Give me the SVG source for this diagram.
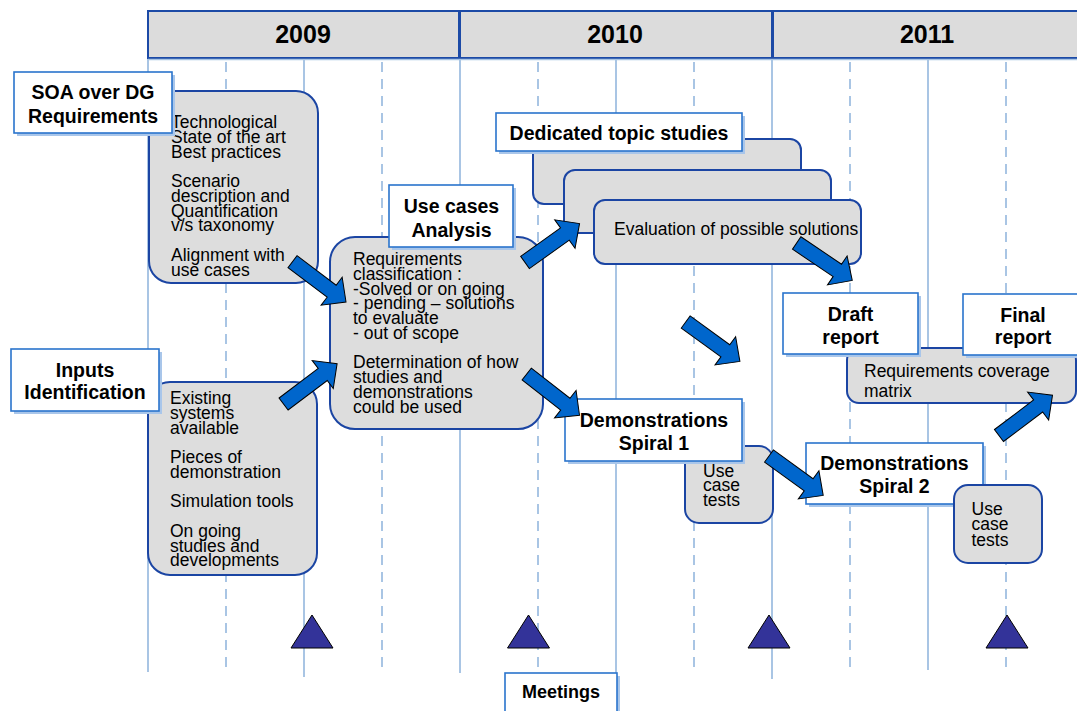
<svg xmlns="http://www.w3.org/2000/svg" xmlns:xlink="http://www.w3.org/1999/xlink" width="1077" height="711" viewBox="0 0 1077 711">
<style>
.bg{fill:#ffffff}
.grid{stroke:#a9c5e4;stroke-width:2;fill:none}
.dash{stroke:#a9c5e4;stroke-width:2;stroke-dasharray:10 7;fill:none}
.hdr{fill:#dcdcdc;stroke:#1c4aa6;stroke-width:2}
.div{stroke:#1c4aa6;stroke-width:3}
.year{font-family:"Liberation Sans",Arial,sans-serif;font-weight:bold;font-size:25px;fill:#000;text-anchor:middle}
.gbox{fill:#dddddd;stroke:#1b45a3;stroke-width:2}
.lbl{fill:#ffffff;stroke:#2a74cc;stroke-width:1.6}
.shd{fill:#a9c6ea}
.lt{font-family:"Liberation Sans",Arial,sans-serif;font-weight:bold;font-size:19.5px;fill:#000;text-anchor:middle}
.bt{font-family:"Liberation Sans",Arial,sans-serif;font-size:17.5px;fill:#000}
.tri{fill:#333399;stroke:#000;stroke-width:1}
.arr{fill:#0066cc;stroke:#000;stroke-width:1;stroke-linejoin:miter}
</style>
<defs>
<path id="blk" d="M0,-7.5 H49 V-17.5 L67,0 L49,17.5 V7.5 H0 Z"/>
</defs>
<rect class="bg" x="0" y="0" width="1077" height="711"/>

<g id="timeline">
  <g id="gridlines">
    <line class="grid" x1="148" y1="58" x2="148" y2="672"/>
    <line class="dash" x1="226" y1="62" x2="226" y2="671"/>
    <line class="grid" x1="304" y1="58" x2="304" y2="677"/>
    <line class="dash" x1="382" y1="62" x2="382" y2="671"/>
    <line class="grid" x1="460" y1="58" x2="460" y2="673"/>
    <line class="dash" x1="538" y1="62" x2="538" y2="671"/>
    <line class="grid" x1="616" y1="58" x2="616" y2="673"/>
    <line class="dash" x1="694" y1="62" x2="694" y2="671"/>
    <line class="grid" x1="772" y1="58" x2="772" y2="679"/>
    <line class="dash" x1="850" y1="62" x2="850" y2="671"/>
    <line class="grid" x1="928" y1="58" x2="928" y2="670"/>
    <line class="dash" x1="1006" y1="62" x2="1006" y2="671"/>
  </g>
  <g id="header">
    <rect class="hdr" x="148" y="11" width="940" height="47"/>
    <line x1="148" y1="59.5" x2="1077" y2="59.5" stroke="#a9c5e4" stroke-width="1.5"/>
    <line class="div" x1="459.5" y1="11" x2="459.5" y2="58"/>
    <line class="div" x1="772.5" y1="11" x2="772.5" y2="58"/>
    <text class="year" x="303" y="43">2009</text>
    <text class="year" x="615" y="43">2010</text>
    <text class="year" x="927" y="43">2011</text>
  </g>
</g>

<g id="soa-content">
  <rect class="gbox" x="149" y="91" width="169" height="192" rx="22"/>
  <text class="bt">
    <tspan x="171" y="128">Technological</tspan>
    <tspan x="171" y="142.75">State of the art</tspan>
    <tspan x="171" y="157.5">Best practices</tspan>
    <tspan x="171" y="187">Scenario</tspan>
    <tspan x="171" y="201.75">description and</tspan>
    <tspan x="171" y="216.5">Quantification</tspan>
    <tspan x="171" y="231.25">v/s taxonomy</tspan>
    <tspan x="171" y="260.75">Alignment with</tspan>
    <tspan x="171" y="275.5">use cases</tspan>
  </text>
</g>
<g id="soa-label">
  <rect class="shd" x="17" y="75" width="158" height="61"/>
  <rect class="lbl" x="14" y="72" width="158" height="61"/>
  <text class="lt"><tspan x="93" y="99">SOA over DG</tspan><tspan x="93" y="123">Requirements</tspan></text>
</g>

<g id="inputs-content">
  <rect class="gbox" x="148" y="382" width="169" height="193" rx="22"/>
  <text class="bt">
    <tspan x="170" y="404">Existing</tspan>
    <tspan x="170" y="418.75">systems</tspan>
    <tspan x="170" y="433.5">available</tspan>
    <tspan x="170" y="463">Pieces of</tspan>
    <tspan x="170" y="477.75">demonstration</tspan>
    <tspan x="170" y="507.25">Simulation tools</tspan>
    <tspan x="170" y="536.75">On going</tspan>
    <tspan x="170" y="551.5">studies and</tspan>
    <tspan x="170" y="566.25">developments</tspan>
  </text>
</g>
<g id="inputs-label">
  <rect class="shd" x="14" y="352" width="148" height="62"/>
  <rect class="lbl" x="11" y="349" width="148" height="62"/>
  <text class="lt"><tspan x="85" y="376.5">Inputs</tspan><tspan x="85" y="399">Identification</tspan></text>
</g>

<g id="usecases-content">
  <rect class="gbox" x="330" y="237" width="213" height="192" rx="25"/>
  <text class="bt">
    <tspan x="353" y="265">Requirements</tspan>
    <tspan x="353" y="279.75">classification :</tspan>
    <tspan x="353" y="294.5">-Solved or on going</tspan>
    <tspan x="353" y="309.25">- pending – solutions</tspan>
    <tspan x="353" y="324">to evaluate</tspan>
    <tspan x="353" y="338.75">- out of scope</tspan>
    <tspan x="353" y="368.25">Determination of how</tspan>
    <tspan x="353" y="383">studies and</tspan>
    <tspan x="353" y="397.75">demonstrations</tspan>
    <tspan x="353" y="412.5">could be used</tspan>
  </text>
</g>
<g id="usecases-label">
  <rect class="shd" x="392" y="188" width="124" height="62"/>
  <rect class="lbl" x="389" y="185" width="124" height="62"/>
  <text class="lt"><tspan x="451.5" y="213">Use cases</tspan><tspan x="451.5" y="237">Analysis</tspan></text>
</g>

<g id="topic-studies">
  <rect class="gbox" x="533" y="139" width="268" height="65" rx="11"/>
  <rect class="gbox" x="564" y="170" width="267" height="63" rx="11"/>
  <rect class="gbox" x="594" y="200" width="267" height="64" rx="11"/>
  <text class="bt" x="614" y="235">Evaluation of possible solutions</text>
</g>
<g id="topic-label">
  <rect class="shd" x="499" y="116" width="246" height="38"/>
  <rect class="lbl" x="496" y="113" width="246" height="38"/>
  <text class="lt" x="619" y="140">Dedicated topic studies</text>
</g>

<g id="coverage-content">
  <rect class="gbox" x="847" y="348" width="229" height="55" rx="12"/>
  <text class="bt"><tspan x="864" y="376.5">Requirements coverage</tspan><tspan x="864" y="397">matrix</tspan></text>
</g>
<g id="draft-label">
  <rect class="shd" x="786" y="296" width="135" height="61"/>
  <rect class="lbl" x="783" y="293" width="135" height="61"/>
  <text class="lt"><tspan x="850.5" y="321">Draft</tspan><tspan x="850.5" y="343.5">report</tspan></text>
</g>
<g id="final-label">
  <rect class="shd" x="966" y="297" width="120" height="61"/>
  <rect class="lbl" x="963" y="294" width="120" height="61"/>
  <text class="lt"><tspan x="1023" y="322">Final</tspan><tspan x="1023" y="344">report</tspan></text>
</g>

<g id="spiral1-tests">
  <rect class="gbox" x="685" y="446" width="88" height="77" rx="14"/>
  <text class="bt"><tspan x="703" y="476.5">Use</tspan><tspan x="703" y="491">case</tspan><tspan x="703" y="505.5">tests</tspan></text>
</g>
<g id="spiral1-label">
  <rect class="shd" x="568" y="402" width="177" height="62"/>
  <rect class="lbl" x="565" y="399" width="177" height="62"/>
  <text class="lt"><tspan x="654" y="427">Demonstrations</tspan><tspan x="654" y="449.5">Spiral 1</tspan></text>
</g>

<g id="spiral2-label">
  <rect class="shd" x="809" y="446" width="177" height="61"/>
  <rect class="lbl" x="806" y="443" width="177" height="61"/>
  <text class="lt"><tspan x="894.5" y="470">Demonstrations</tspan><tspan x="894.5" y="492.5">Spiral 2</tspan></text>
</g>
<g id="spiral2-tests">
  <rect class="gbox" x="954" y="485" width="88" height="78" rx="14"/>
  <text class="bt"><tspan x="971.5" y="515">Use</tspan><tspan x="971.5" y="530">case</tspan><tspan x="971.5" y="545.5">tests</tspan></text>
</g>

<g id="meetings">
  <polygon class="tri" points="312,615 291,648 333,648"/>
  <polygon class="tri" points="528.5,615 507.5,648 549.5,648"/>
  <polygon class="tri" points="769,615 748,648 790,648"/>
  <polygon class="tri" points="1007,615 986,648 1028,648"/>
</g>
<g id="meetings-label">
  <rect class="shd" x="508" y="676" width="112" height="42"/>
  <rect class="lbl" x="505" y="673" width="112" height="42"/>
  <text class="lt" x="561" y="698" style="font-size:18px">Meetings</text>
</g>

<g id="connectors">
  <use href="#blk" class="arr" transform="translate(292.5,261.7) rotate(37)"/>
  <use href="#blk" class="arr" transform="translate(283.6,404) rotate(-37)"/>
  <use href="#blk" class="arr" transform="translate(525,262.5) rotate(-35.5)"/>
  <use href="#blk" class="arr" transform="translate(796.7,243) rotate(34)"/>
  <use href="#blk" class="arr" transform="translate(685.7,322) rotate(36)"/>
  <use href="#blk" class="arr" transform="translate(526.7,374) rotate(38)"/>
  <use href="#blk" class="arr" transform="translate(769,456) rotate(36)"/>
  <use href="#blk" class="arr" transform="translate(999,435.5) rotate(-37)"/>
</g>
</svg>
